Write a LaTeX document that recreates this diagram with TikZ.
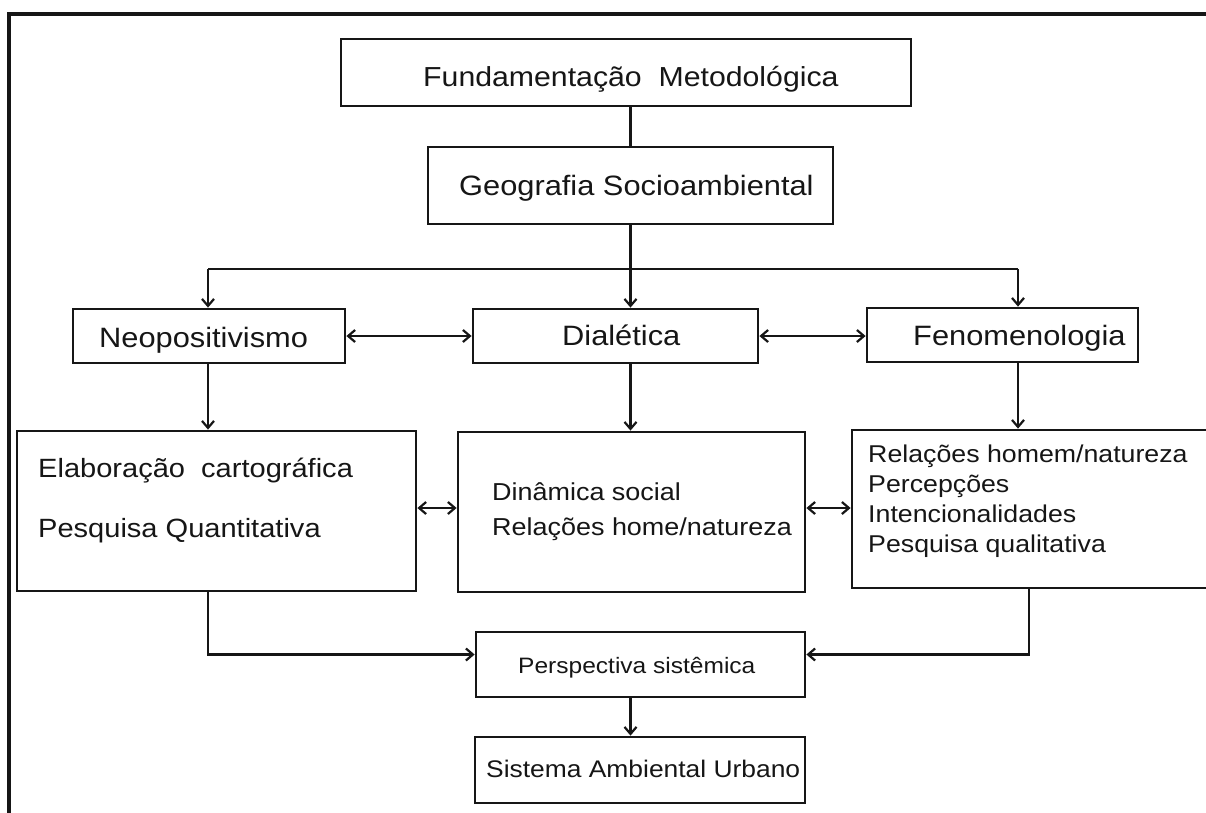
\documentclass[tikz,border=0pt]{standalone}
\usepackage{fontspec}
\setmainfont{Liberation Sans}
\newfontfamily\diagfont[FakeStretch=1.1]{Liberation Sans}
\usetikzlibrary{arrows.meta,calc}

\definecolor{ink}{RGB}{22,22,22}

% box given by its corners (x1,y1) and (x2,y2), in points, y downwards
\newcommand{\diagbox}[5]{%
  \node[box, minimum width={#4pt-#2pt}, minimum height={#5pt-#3pt}] (#1)
    at ({(#2+#4)/2},{(#3+#5)/2}) {};}

\tikzset{
  box/.style={draw=ink, line width=2.8pt, rectangle, inner sep=0pt, fill=white},
  link/.style={draw=ink, line width=2.2pt},
  lbl/.style={inner sep=0pt, anchor=base west, text=ink},
  big/.style={lbl, font=\diagfont\fontsize{28}{30}\selectfont},
  mid/.style={lbl, font=\diagfont\fontsize{26.4}{28}\selectfont},
  small/.style={lbl, font=\diagfont\fontsize{24.3}{26}\selectfont},
  >={Straight Barb[length=7pt,width=12pt]},
}

\begin{document}
\begin{tikzpicture}[x=1pt,y=-1pt]
\useasboundingbox (0,0) rectangle (1206,812);
\fill[white] (0,0) rectangle (1206,812);

% outer frame (only the top and left sides lie inside the page)
\draw[ink, line width=3.2pt] (1210,14) -- (9,14) -- (9,816);

% boxes
\diagbox{fund}{341}{39}{911}{106}
\diagbox{geog}{428}{147}{833}{224}
\diagbox{neo}{73}{309}{345}{363}
\diagbox{dial}{473}{309}{758}{363}
\diagbox{fen}{867}{308}{1138}{362}
\diagbox{elab}{17}{431}{416}{591}
\diagbox{dina}{458}{432}{805}{592}
\diagbox{rel}{852}{430}{1214}{588}
\diagbox{persp}{476}{632}{805}{697}
\diagbox{sist}{475}{737}{805}{803}

% texts
\node[big, font=\diagfont\fontsize{27.5}{30}\selectfont] (tfund) at (423,86) {Fundamentação\ \ Metodológica};
\node[big] (tgeog) at (459,195) {Geografia Socioambiental};
\node[big] (tneo) at (99,347) {Neopositivismo};
\node[big] (tdial) at (562,345) {Dialética};
\node[big] (tfen) at (913,345) {Fenomenologia};
\node[mid] (telab) at (38,477) {Elaboração\ \ cartográfica};
\node[mid] (tquant) at (38,537) {Pesquisa Quantitativa};
\node[small, font=\diagfont\fontsize{24.5}{26}\selectfont] (tdin) at (492,500) {Dinâmica social};
\node[small, font=\diagfont\fontsize{24.5}{26}\selectfont] (thome) at (492,535) {Relações home/natureza};
\node[small] (tr1) at (868,462) {Relações homem/natureza};
\node[small] (tr2) at (868,492) {Percepções};
\node[small] (tr3) at (868,522) {Intencionalidades};
\node[small] (tr4) at (868,552) {Pesquisa qualitativa};
\node[lbl, font=\diagfont\fontsize{22.3}{24}\selectfont] (tpersp) at (518,673) {Perspectiva sistêmica};
\node[lbl, font=\diagfont\fontsize{24}{26}\selectfont] (tsist) at (486,777) {Sistema Ambiental Urbano};

% junction points of the branching connector
\coordinate (jL) at (208,269);
\coordinate (jR) at (1018,269);
\coordinate (kR) at (1029,654);

% connectors
\draw[link] (geog.north) -- (geog.north |- fund.south);
\draw[link] (geog.south) -- (geog.south |- jL);
\draw[link] (jL) -- (jR);
\draw[link,->] (jL) -- (jL |- neo.north);
\draw[link,->] (jR) -- (jR |- fen.north);
\draw[link,->] (geog.south |- jL) -- (geog.south |- dial.north);

\draw[link,<->] (neo.east) -- (neo.east -| dial.west);
\draw[link,<->] (dial.east) -- (dial.east -| fen.west);

\draw[link,->] (jL |- neo.south) -- (jL |- elab.north);
\draw[link,->] (geog.south |- dial.south) -- (geog.south |- dina.north);
\draw[link,->] (jR |- fen.south) -- (jR |- rel.north);

\draw[link,<->] ($(elab.east)+(0,-3)$) -- ($(elab.east -| dina.west)+(0,-3)$);
\draw[link,<->] ($(dina.east)+(0,-4)$) -- ($(dina.east -| rel.west)+(0,-4)$);

\draw[link,->] (jL |- elab.south) |- ($(persp.west)+(0,-10)$);
\draw[link,->] (kR |- rel.south) |- ($(persp.east)+(0,-10)$);
\draw[link,->] (geog.south |- persp.south) -- (geog.south |- sist.north);
\end{tikzpicture}
\end{document}
